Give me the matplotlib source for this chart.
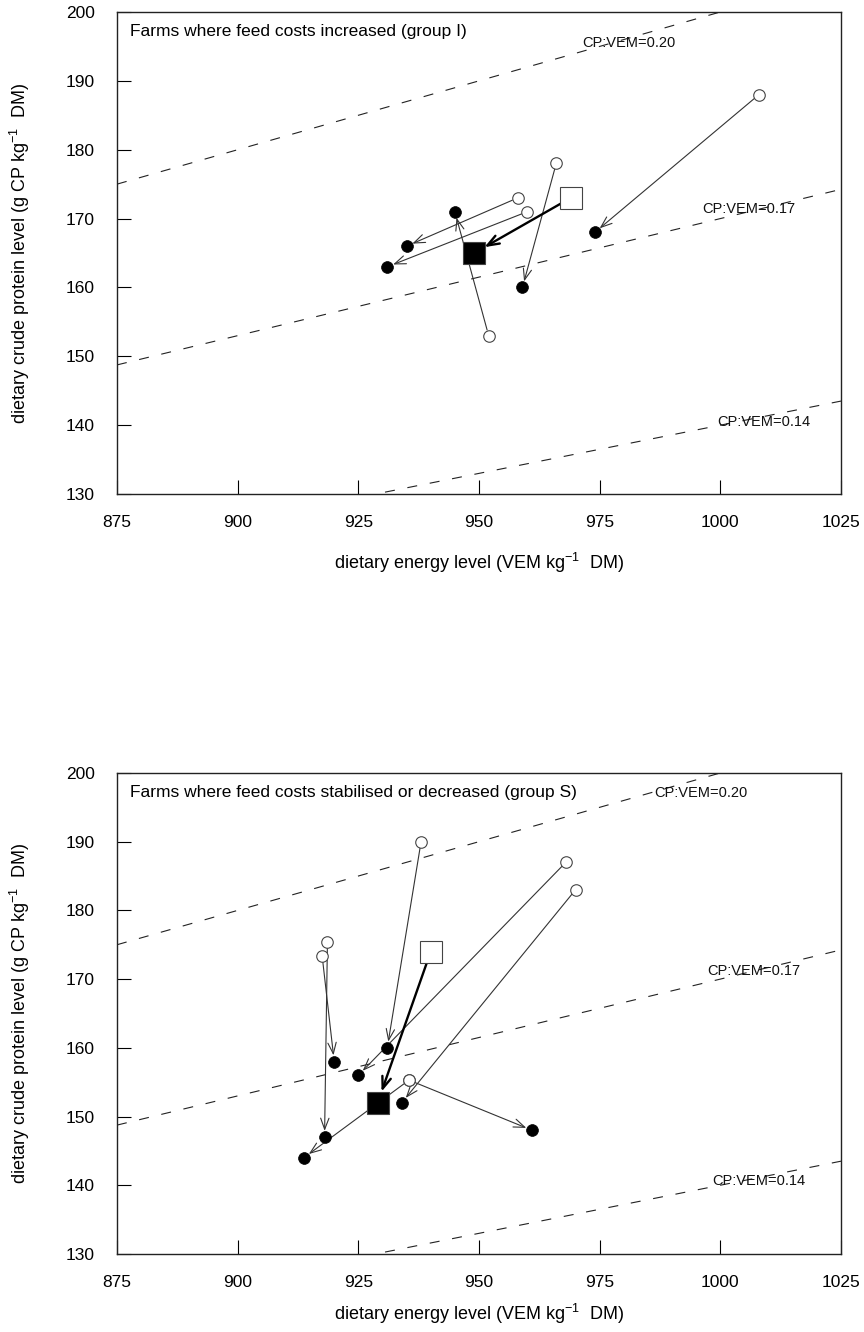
import matplotlib
matplotlib.use('Agg')
import matplotlib.pyplot as plt

plt.rcParams['font.family'] = ['Liberation Sans', 'DejaVu Sans']
plt.rcParams['mathtext.default'] = 'regular'

# group I : farms where feed costs increased
i_start_vem = [958, 960, 952, 966, 1008]
i_start_cp = [173, 171, 153, 178, 188]
i_end_vem = [935, 931, 945, 959, 974]
i_end_cp = [166, 163, 171, 160, 168]
i_mean_start = [969, 173]
i_mean_end = [949, 165]

# group S : farms where feed costs stabilised or decreased
s_start_vem = [938, 968, 970, 918.6, 917.5, 935.5, 935.5]
s_start_cp = [190, 187, 183, 175.4, 173.4, 155.3, 155.3]
s_end_vem = [931, 925, 934, 918, 920, 961, 913.7]
s_end_cp = [160, 156, 152, 147, 158, 148, 144]
s_mean_start = [940, 174]
s_mean_end = [929, 152]

# CP:VEM ratio lines and where their labels sit
ratios = [0.20, 0.17, 0.14]
ratio_labels = ['CP:VEM=0.20', 'CP:VEM=0.17', 'CP:VEM=0.14']
i_label_pos = [(981, 195.5), (1006, 171.4), (1009, 140.4)]
s_label_pos = [(996, 197.1), (1007, 171.2), (1008, 140.6)]

x_ticks = [875, 900, 925, 950, 975, 1000, 1025]
y_ticks = [130, 140, 150, 160, 170, 180, 190, 200]

titles = ['Farms where feed costs increased (group I)',
          'Farms where feed costs stabilised or decreased (group S)']


def draw_panel(ax, title, sv, sc, ev, ec, m_start, m_end, label_pos, xlab_y):

        # ratio lines
        xs = [875, 1025]
        for r, lab, pos in zip(ratios, ratio_labels, label_pos):
                ax.plot(xs, [r * x for x in xs], color='#222222', lw=0.8,
                        linestyle=(0, (9, 11.5)), zorder=1)
                ax.text(pos[0], pos[1], lab, fontsize=10.5, ha='center',
                        va='center', color='#111111', zorder=2)

        # farm arrows
        for x0, y0, x1, y1 in zip(sv, sc, ev, ec):
                ax.annotate('', xy=(x1, y1), xytext=(x0, y0),
                            arrowprops=dict(arrowstyle='->,head_length=0.8,head_width=0.3',
                                            lw=0.8, color='#333333',
                                            shrinkA=4.2, shrinkB=4.5),
                            zorder=3)

        # mean arrow
        ax.annotate('', xy=m_end, xytext=m_start,
                    arrowprops=dict(arrowstyle='->,head_length=0.85,head_width=0.32',
                                    lw=1.7, color='black',
                                    shrinkA=8, shrinkB=8.5),
                    zorder=3)

        ax.plot(sv, sc, 'o', ms=8.3, mfc='white', mec='#444444', mew=0.8, zorder=4)
        ax.plot(ev, ec, 'o', ms=8.5, mfc='black', mec='black', mew=0.5, zorder=4)
        ax.plot(m_start[0], m_start[1], 's', ms=15.5, mfc='white', mec='#444444', mew=0.8, zorder=4)
        ax.plot(m_end[0], m_end[1], 's', ms=15.5, mfc='black', mec='#444444', mew=0.8, zorder=4)

        ax.text(0.018, 0.96, title, transform=ax.transAxes, fontsize=12.5,
                va='center', ha='left')

        ax.set_xlim(875, 1025)
        ax.set_ylim(130, 200)
        ax.set_xticks(x_ticks)
        ax.set_yticks(y_ticks)
        ax.tick_params(direction='in', length=10, width=0.8, labelsize=12.5)
        ax.tick_params(axis='x', pad=15)
        ax.tick_params(axis='y', pad=16)
        for s in ax.spines.values():
                s.set_linewidth(1.0)
                s.set_color('#222222')

        ax.set_xlabel('dietary energy level (VEM kg$^{-1}$  DM)', fontsize=13)
        ax.set_ylabel('dietary crude protein level (g CP kg$^{-1}$  DM)', fontsize=13)
        ax.xaxis.set_label_coords(0.5, xlab_y)
        ax.yaxis.set_label_coords(-0.117, 0.5)


fig = plt.figure(figsize=(8.64, 13.32), dpi=100)
ax1 = fig.add_axes([0.1354, 0.6291, 0.8380, 0.3619])
ax2 = fig.add_axes([0.1354, 0.0586, 0.8380, 0.3611])

draw_panel(ax1, titles[0], i_start_vem, i_start_cp, i_end_vem, i_end_cp,
           i_mean_start, i_mean_end, i_label_pos, -0.118)
draw_panel(ax2, titles[1], s_start_vem, s_start_cp, s_end_vem, s_end_cp,
           s_mean_start, s_mean_end, s_label_pos, -0.1)

fig.savefig('out.png', dpi=100)
